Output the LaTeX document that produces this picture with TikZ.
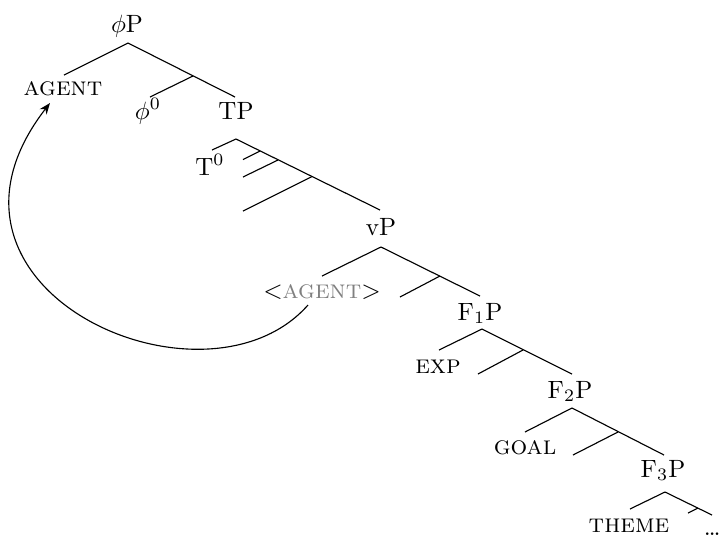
\documentclass[tikz,border=0pt]{standalone}
\usetikzlibrary{arrows.meta}
\newcommand\scx[1]{{\fontsize{10.5pt}{12pt}\selectfont\textsc{#1}}}
\begin{document}
\begin{tikzpicture}[x=0.4pt,y=-0.4pt,
  lbl/.style={anchor=base,inner sep=0pt,outer sep=0pt},
  br/.style={line width=0.45pt},
  mv/.style={line width=0.45pt,-{Stealth[length=4.5pt,width=3.5pt]}}]
\useasboundingbox (0,0) rectangle (721,536);
% labels
\node[lbl] (phiP) at (127,32) {$\phi$P};
\node[lbl] (agent) at (63,95) {\scx{agent}};
\node[lbl] (phi0) at (148,119) {$\phi^0$};
\node[lbl] (TP) at (236,119) {TP};
\node[lbl] (T0) at (210,175) {T$^0$};
\node[lbl] (vP) at (381,235) {vP};
\node[lbl] (agent2) at (322,298) {$<$\textcolor{gray}{\scx{agent}}$>$};
\node[lbl] (F1P) at (480,320) {F$_1$P};
\node[lbl] (exp) at (438,373) {\scx{exp}};
\node[lbl] (F2P) at (570,398) {F$_2$P};
\node[lbl] (goal) at (525,454) {\scx{goal}};
\node[lbl] (F3P) at (663,477) {F$_3$P};
\node[lbl] (theme) at (629,532) {\scx{theme}};
\node[lbl,anchor=base east] (dots) at (720.5,535) {\dots};
% apex / end coordinates
\coordinate (a0) at (128,43);
\coordinate (agentT) at (64,75);
\coordinate (b0) at (193,76);
\coordinate (phi0T) at (150,97);
\coordinate (TPT) at (235,97);
\coordinate (a1) at (236,139);
\coordinate (T0T) at (212,150);
\coordinate (c1) at (260,151);
\coordinate (e1) at (243,159.5);
\coordinate (c2) at (278,160);
\coordinate (e2) at (243,177);
\coordinate (c3) at (312,176.5);
\coordinate (e3) at (243,211);
\coordinate (vPT) at (380,210);
\coordinate (a2) at (381,247);
\coordinate (agent2T) at (322,276);
\coordinate (c4) at (440,276);
\coordinate (e4) at (400,297);
\coordinate (F1PT) at (480,296);
\coordinate (a3) at (482,329);
\coordinate (expT) at (439,350);
\coordinate (c5) at (523,350);
\coordinate (e5) at (478,374);
\coordinate (F2PT) at (572,374);
\coordinate (a4) at (572,408);
\coordinate (goalT) at (525,432);
\coordinate (c6) at (618,432);
\coordinate (e6) at (573,455);
\coordinate (F3PT) at (664,455);
\coordinate (a5) at (665,492);
\coordinate (themeT) at (630,509);
\coordinate (c7) at (698,508);
\coordinate (e7) at (688,513);
\coordinate (dotsT) at (712,515);
% branches
\draw[br] (agentT) -- (a0) -- (TPT);
\draw[br] (b0) -- (phi0T);
\draw[br] (T0T) -- (a1) -- (vPT);
\draw[br] (c1) -- (e1);
\draw[br] (c2) -- (e2);
\draw[br] (c3) -- (e3);
\draw[br] (agent2T) -- (a2) -- (F1PT);
\draw[br] (c4) -- (e4);
\draw[br] (expT) -- (a3) -- (F2PT);
\draw[br] (c5) -- (e5);
\draw[br] (goalT) -- (a4) -- (F3PT);
\draw[br] (c6) -- (e6);
\draw[br] (themeT) -- (a5) -- (dotsT);
\draw[br] (c7) -- (e7);
% movement arrow
\coordinate (mvS) at (308,305);
\coordinate (mvE) at (50,103);
\draw[mv] (mvS) .. controls (205,422) and (-95,290) .. (mvE);
\end{tikzpicture}
\end{document}
